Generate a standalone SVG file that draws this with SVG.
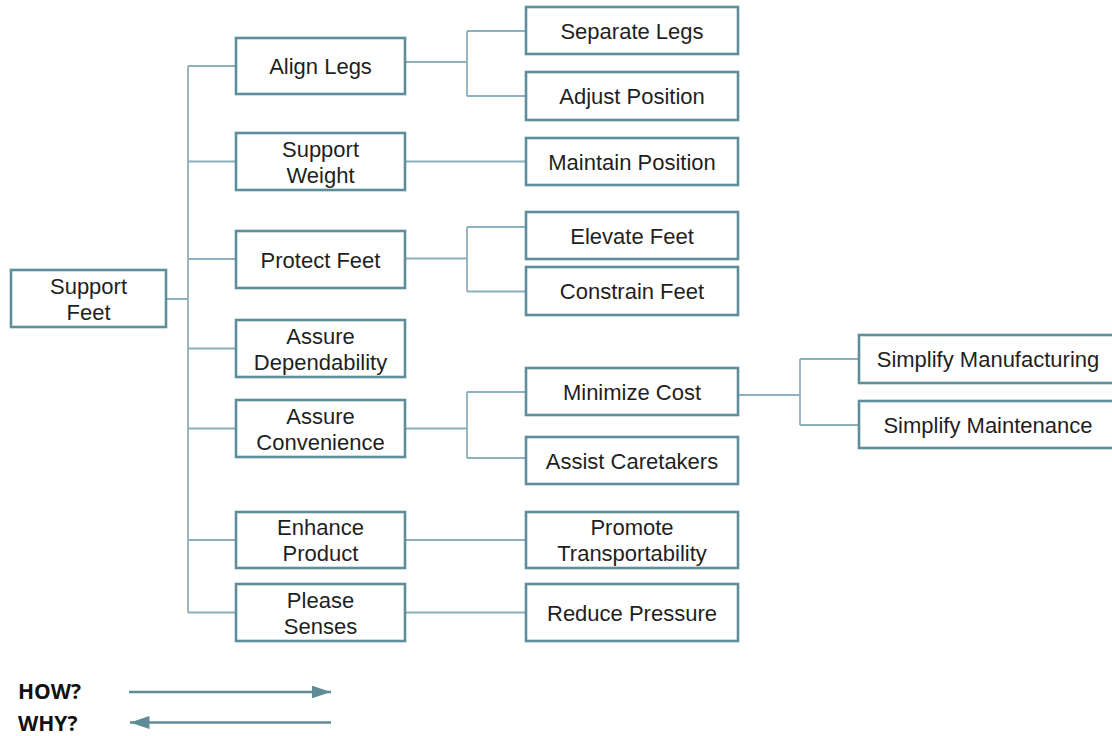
<svg xmlns="http://www.w3.org/2000/svg" width="1112" height="736" viewBox="0 0 1112 736">
<defs>
<style>
.box{fill:#fff;stroke:#5f8e9b;stroke-width:2.6}
.t{font-family:"Liberation Sans",Arial,sans-serif;font-size:22px;fill:#1f1f1f;text-anchor:middle}
.c{fill:none;stroke:#8db0ba;stroke-width:1.8}
.lg{font-family:"Open Sans","DejaVu Sans",sans-serif;font-weight:bold;font-size:21px;fill:#111}
.ar{stroke:#5e8b96;stroke-width:2.6;fill:none}
</style>
<marker id="ah" viewBox="0 0 15 10" refX="15" refY="5" markerWidth="7.5" markerHeight="5" markerUnits="strokeWidth" orient="auto-start-reverse">
<path d="M0,0 L15,5 L0,10 Z" fill="#5e8b96"/>
</marker>
</defs>
<rect width="1112" height="736" fill="#fff"/>
<g id="connectors">
<path class="c" d="M166 299 H188 M188 66 V612.5 M188 66 H236 M188 161.5 H236 M188 259 H236 M188 348.5 H236 M188 428.5 H236 M188 540 H236 M188 612.5 H236"/>
<path class="c" d="M405 62 H467 M467 31 V96 M467 31 H526 M467 96 H526"/>
<path class="c" d="M405 161.5 H526"/>
<path class="c" d="M405 258.5 H467 M467 227 V291.5 M467 227 H526 M467 291.5 H526"/>
<path class="c" d="M405 428.5 H467 M467 392 V458 M467 392 H526 M467 458 H526"/>
<path class="c" d="M405 540 H526 M405 612.5 H526"/>
<path class="c" d="M738 395 H800 M800 359 V425 M800 359 H859 M800 425 H859"/>
</g>
<g id="support-feet"><rect class="box" x="11" y="270" width="155" height="57"/><text class="t" x="88.5" y="293.5">Support</text><text class="t" x="88.5" y="319.5">Feet</text></g>
<g id="align-legs"><rect class="box" x="236" y="38" width="169" height="56"/><text class="t" x="320.5" y="74">Align Legs</text></g>
<g id="support-weight"><rect class="box" x="236" y="133" width="169" height="57"/><text class="t" x="320.5" y="156.5">Support</text><text class="t" x="320.5" y="182.5">Weight</text></g>
<g id="protect-feet"><rect class="box" x="236" y="231" width="169" height="57"/><text class="t" x="320.5" y="267.5">Protect Feet</text></g>
<g id="assure-dependability"><rect class="box" x="236" y="320" width="169" height="57"/><text class="t" x="320.5" y="343.5">Assure</text><text class="t" x="320.5" y="369.5">Dependability</text></g>
<g id="assure-convenience"><rect class="box" x="236" y="400" width="169" height="57"/><text class="t" x="320.5" y="423.5">Assure</text><text class="t" x="320.5" y="449.5">Convenience</text></g>
<g id="enhance-product"><rect class="box" x="236" y="512" width="169" height="56"/><text class="t" x="320.5" y="535">Enhance</text><text class="t" x="320.5" y="561">Product</text></g>
<g id="please-senses"><rect class="box" x="236" y="584" width="169" height="57"/><text class="t" x="320.5" y="607.5">Please</text><text class="t" x="320.5" y="633.5">Senses</text></g>
<g id="separate-legs"><rect class="box" x="526" y="7" width="212" height="47"/><text class="t" x="632" y="38.5">Separate Legs</text></g>
<g id="adjust-position"><rect class="box" x="526" y="72" width="212" height="48"/><text class="t" x="632" y="104">Adjust Position</text></g>
<g id="maintain-position"><rect class="box" x="526" y="138" width="212" height="47"/><text class="t" x="632" y="169.5">Maintain Position</text></g>
<g id="elevate-feet"><rect class="box" x="526" y="212" width="212" height="47"/><text class="t" x="632" y="243.5">Elevate Feet</text></g>
<g id="constrain-feet"><rect class="box" x="526" y="267" width="212" height="48"/><text class="t" x="632" y="299">Constrain Feet</text></g>
<g id="minimize-cost"><rect class="box" x="526" y="368" width="212" height="47"/><text class="t" x="632" y="399.5">Minimize Cost</text></g>
<g id="assist-caretakers"><rect class="box" x="526" y="437" width="212" height="47"/><text class="t" x="632" y="468.5">Assist Caretakers</text></g>
<g id="promote-transportability"><rect class="box" x="526" y="512" width="212" height="56"/><text class="t" x="632" y="535">Promote</text><text class="t" x="632" y="561">Transportability</text></g>
<g id="reduce-pressure"><rect class="box" x="526" y="584" width="212" height="57"/><text class="t" x="632" y="620.5">Reduce Pressure</text></g>
<g id="simplify-manufacturing"><rect class="box" x="859" y="335" width="258" height="48"/><text class="t" x="988" y="367">Simplify Manufacturing</text></g>
<g id="simplify-maintenance"><rect class="box" x="859" y="401" width="258" height="47"/><text class="t" x="988" y="432.5">Simplify Maintenance</text></g>
<g id="legend">
<text class="lg" x="18" y="699">HOW?</text>
<text class="lg" x="18" y="731">WHY?</text>
<path class="ar" d="M129 692 H331" marker-end="url(#ah)"/>
<path class="ar" d="M130 722.5 H331" marker-start="url(#ah)"/>
</g>
</svg>
